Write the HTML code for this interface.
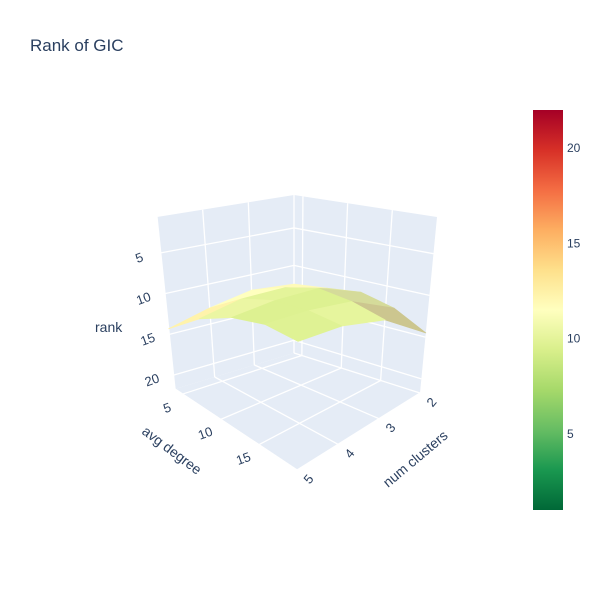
<!DOCTYPE html>
<html><head><meta charset="utf-8">
<style>
body{margin:0;background:#fff;}
svg{display:block;font-family:"Liberation Sans",sans-serif;}
</style></head>
<body>
<svg id="chart" width="600" height="600" viewBox="0 0 600 600">
  <defs>
    <linearGradient id="cbgrad" x1="0" y1="1" x2="0" y2="0">
      <stop offset="0" stop-color="#006837"/>
      <stop offset="0.1" stop-color="#1a9850"/>
      <stop offset="0.2" stop-color="#66bd63"/>
      <stop offset="0.3" stop-color="#a6d96a"/>
      <stop offset="0.4" stop-color="#d9ef8b"/>
      <stop offset="0.5" stop-color="#ffffbf"/>
      <stop offset="0.6" stop-color="#fee08b"/>
      <stop offset="0.7" stop-color="#fdae61"/>
      <stop offset="0.8" stop-color="#f46d43"/>
      <stop offset="0.9" stop-color="#d73027"/>
      <stop offset="1" stop-color="#a50026"/>
    </linearGradient>
  </defs>
  <text x="30" y="51" font-size="17" fill="#2a3f5f">Rank of GIC</text>
  <g id="walls"></g>
  <g id="grid"></g>
  <g id="surface"></g>
  <g id="labels" fill="#2a3f5f" font-size="13">
    <text x="95" y="332" font-size="14">rank</text>
    <text x="0" y="0" font-size="14" transform="translate(141,433) rotate(37)">avg degree</text>
    <text x="0" y="0" font-size="14" transform="translate(388,488) rotate(-40)">num clusters</text>
  </g>
  <rect x="533" y="110" width="30" height="400" fill="url(#cbgrad)"/>
  <g id="cbticks" fill="#2a3f5f" font-size="12"></g>
</svg>
<script>
const avgDegree = [4, 8, 12, 16, 20];
const numClusters = [2, 3, 4, 5];
const rankValues = [
  [12.5, 12, 13, 14.3],
  [12, 10.5, 10.5, 11.5],
  [11.5, 9.5, 9.5, 10],
  [12.5, 10, 9.5, 9.5],
  [14.5, 11, 10, 10]
];
const rankTicks = [5, 10, 15, 20];
const avgTicks = [5, 10, 15];
const clusterTicks = [2, 3, 4, 5];
const cbTicks = [5, 10, 15, 20];

const NS = "http://www.w3.org/2000/svg";
const A0 = 4, A1 = 20, C0 = 2, C1 = 5, R0 = 0.6, R1 = 21.7;
const botC = {b:[294,353], r:[420,393], l:[175,389], f:[297,470]};
const topC = {b:[294,195], r:[437,217], l:[157,217], f:[299,238]};
function bil(k, u, v, i){ return k.b[i]*(1-u)*(1-v)+k.r[i]*u*(1-v)+k.l[i]*(1-u)*v+k.f[i]*u*v; }
function P(a, c, r){
  const u=(a-A0)/(A1-A0), v=(c-C0)/(C1-C0), w=(R1-r)/(R1-R0);
  return [bil(botC,u,v,0)*(1-w)+bil(topC,u,v,0)*w, bil(botC,u,v,1)*(1-w)+bil(topC,u,v,1)*w];
}
function el(tag, attrs, parent){ const e=document.createElementNS(NS,tag); for(const k in attrs) e.setAttribute(k,attrs[k]); parent.appendChild(e); return e; }
function pts(arr){ return arr.map(p=>p[0].toFixed(1)+","+p[1].toFixed(1)).join(" "); }

const walls=document.getElementById('walls'), grid=document.getElementById('grid');
let e;
e=el('polygon',{points:pts([P(A0,C0,R0),P(A0,C1,R0),P(A0,C1,R1),P(A0,C0,R1)]),fill:'#e5ecf6'},walls);


e=el('polygon',{points:pts([P(A0,C0,R0),P(A1,C0,R0),P(A1,C0,R1),P(A0,C0,R1)]),fill:'#e5ecf6'},walls);


e=el('polygon',{points:pts([P(A0,C0,R1),P(A1,C0,R1),P(A1,C1,R1),P(A0,C1,R1)]),fill:'#e5ecf6'},walls);



function line(p,q,name){ const l=el('line',{x1:p[0],y1:p[1],x2:q[0],y2:q[1],stroke:'#fff','stroke-width':1.3},grid);   }
rankTicks.forEach(r=>{ line(P(A0,C1,r),P(A0,C0,r),'rank-gridline'); line(P(A0,C0,r),P(A1,C0,r),'rank-gridline'); });
clusterTicks.forEach(c=>{ line(P(A0,c,R0),P(A0,c,R1),'cluster-gridline'); line(P(A0,c,R1),P(A1,c,R1),'cluster-gridline'); });
avgTicks.forEach(a=>{ line(P(a,C0,R0),P(a,C0,R1),'avg-gridline'); line(P(a,C0,R1),P(a,C1,R1),'avg-gridline'); });
line(P(A0,C1,R1),P(A1,C1,R1),'floor-edge'); line(P(A1,C0,R1),P(A1,C1,R1),'floor-edge');

const stops=["#006837","#1a9850","#66bd63","#a6d96a","#d9ef8b","#ffffbf","#fee08b","#fdae61","#f46d43","#d73027","#a50026"];
function hex(h){return [parseInt(h.substr(1,2),16),parseInt(h.substr(3,2),16),parseInt(h.substr(5,2),16)];}
function color(z, shade){
  let t=Math.max(0,Math.min(1,(z-1)/21))*10; const i=Math.min(9,Math.floor(t)), f=t-i;
  const a=hex(stops[i]), b=hex(stops[i+1]);
  return 'rgb('+a.map((x,k)=>Math.round((x+(b[k]-x)*f)*shade)).join(',')+')';
}
const surf=document.getElementById('surface');
const quads=[];
for(let i=0;i<avgDegree.length-1;i++) for(let j=0;j<numClusters.length-1;j++){
  const c=[[i,j],[i+1,j],[i+1,j+1],[i,j+1]];
  const p=c.map(([a,b])=>P(avgDegree[a],numClusters[b],rankValues[a][b]));
  const zm=c.reduce((s,[a,b])=>s+rankValues[a][b],0)/4;
  const depth=(avgDegree[i]+avgDegree[i+1])/(A1-A0)+(numClusters[j]+numClusters[j+1])/(C1-C0);
  const slope=(rankValues[i+1][j]-rankValues[i+1][j+1]+rankValues[i][j]-rankValues[i][j+1]);
  const shade=Math.max(0.75,Math.min(1,1-0.05*Math.max(0,slope-2)));
  quads.push({p,zm,depth,shade});
}
quads.sort((a,b)=>a.depth-b.depth);
quads.forEach(q=>{
  const col=color(q.zm,q.shade);
  const s=el('polygon',{points:pts(q.p),fill:col,stroke:col,'stroke-width':0.8,'stroke-linejoin':'round'},surf);
  
  
});

const lab=document.getElementById('labels');
function tlabel(txt,p,dx,dy,rot,name){ const t=el('text',{x:0,y:0,transform:'translate('+(p[0]+dx)+','+(p[1]+dy)+') rotate('+rot+')','text-anchor':'middle'},lab); t.textContent=txt;   }
rankTicks.forEach(r=>tlabel(String(r),P(A0,C1,r),-20,9,-20,'rank-tick-label'));
avgTicks.forEach(a=>tlabel(String(a),P(a,C1,R1),-14,18,-20,'avg-tick-label'));
clusterTicks.forEach(c=>tlabel(String(c),P(A1,c,R1),15,12,-50,'cluster-tick-label'));

const cb=document.getElementById('cbticks');
cbTicks.forEach(v=>{ const y=510-(v-1)/21*400; const t=el('text',{x:567,y:y+4},cb); t.textContent=String(v);   });
</script>
</body></html>
